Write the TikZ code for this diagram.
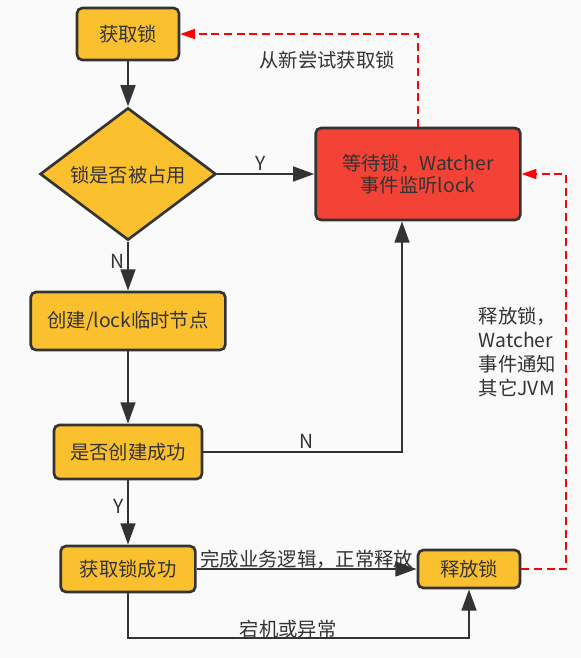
\documentclass[tikz,border=0pt]{standalone}
\usepackage{fontspec}
\setmainfont{Noto Sans CJK SC}
\usetikzlibrary{
		positioning,
		arrows.meta,
		shapes.geometric
	}
\definecolor{lockyellow}{HTML}{FBC02D}
\definecolor{lockred}{HTML}{F44336}
\definecolor{lockdark}{HTML}{333333}
\definecolor{lockpaper}{HTML}{FAFAFA}
\tikzset{
		>={Triangle[length=16pt,width=11pt]},
		stepbox/.style={draw=lockdark, line width=2pt, rounded corners=4pt, fill=lockyellow, text=lockdark, inner sep=0pt, align=center, font=\fontsize{14.5pt}{17pt}\selectfont},
		decide/.style={stepbox, diamond, rounded corners=0pt, line join=miter},
		flow/.style={draw=lockdark, line width=2pt, ->},
		retry/.style={draw=red, line width=1.1pt, dash pattern=on 6pt off 3.5pt, -{Triangle[length=11pt,width=7.5pt]}},
		lbl/.style={text=lockdark, inner sep=2pt, align=left, font=\fontsize{14.5pt}{18pt}\selectfont}
	}

\begin{document}
\begin{tikzpicture}[x=0.75pt, y=-0.75pt]
		\fill[lockpaper] (0,0) rectangle (581,658);
		\useasboundingbox (0,0) rectangle (581,658);

		\node[stepbox, minimum width=76.5pt, minimum height=39pt] (get) at (128,34) {获取锁};
		\node[decide, minimum width=132pt, minimum height=86.5pt, text depth=-3pt] (busy) at (128,174) {锁是否被占用};
		\node[stepbox, fill=lockred, minimum width=153.5pt, minimum height=69pt] (wait) at (418,174) {等待锁，Watcher\\事件监听lock};
		\node[stepbox, minimum width=146pt, minimum height=43.5pt] (create) at (128,321) {创建/lock临时节点};
		\node[stepbox, minimum width=111pt, minimum height=40.5pt] (created) at (128,452) {是否创建成功};
		\node[stepbox, minimum width=101pt, minimum height=34.5pt] (got) at (128,569) {获取锁成功};
		\node[stepbox, minimum width=76.5pt, minimum height=28.5pt] (release) at (469,569) {释放锁};

		\coordinate (low) at (128,638);
		\coordinate (side) at (566,569);

		\draw[flow] (get) -- (busy);
		\draw[flow] (busy) -- node[lbl, pos=0.45, above] {Y} (wait);
		\draw[flow] (busy) -- node[lbl, pos=0.4, left] {N} (create);
		\draw[flow] (create) -- (created);
		\draw[flow] (created.east) -| node[lbl, pos=0.26, above] {N} ([xshift=-12pt]wait.south);
		\draw[flow] (created) -- node[lbl, pos=0.4, left] {Y} (got);
		\draw[flow] (got) -- node[lbl, pos=0.5, above, yshift=-3pt] {完成业务逻辑，正常释放} (release);
		\draw[flow] (got) -- (low) -- node[lbl, pos=0.47, above, yshift=-3pt] {宕机或异常} (release.south |- low) -- (release);

		\draw[retry] (wait.north) |- (get.east);
		\node[lbl] (retrytext) at (327,60) {从新尝试获取锁};
		\draw[retry] (release.east) -- (side) |- (wait.east);
		\node[lbl, anchor=west] (notify) at (476,352) {释放锁，\\Watcher\\事件通知\\其它JVM};
	\end{tikzpicture}
\end{document}
